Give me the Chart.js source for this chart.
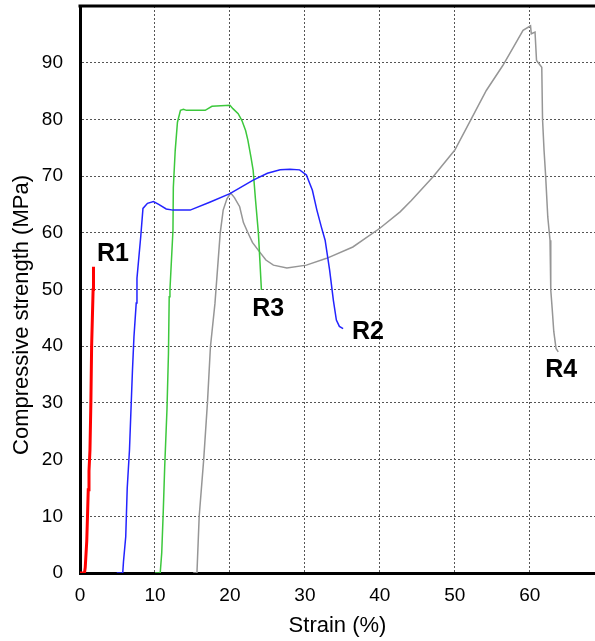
<!DOCTYPE html>
<html>
<head>
<meta charset="utf-8">
<script src="https://cdn.jsdelivr.net/npm/chart.js@4.4.1/dist/chart.umd.min.js"></script>
<style>
  body { margin: 0; background: #fff; }
  #wrap { width: 595px; height: 641px; }
</style>
</head>
<body>
<div id="wrap"><canvas id="stress-chart" width="595" height="641"></canvas></div>
<script>
// Strain (%) and compressive strength (MPa)
const r1Strain = [0, 0.35, 0.6, 0.7, 0.9, 1.0, 1.1, 1.2, 1.33, 1.45, 1.55, 1.65, 1.75, 1.8];
const r1Stress = [0, 0, 0, 1, 5.6, 10, 14.7, 18, 21.7, 30, 40, 45, 50, 54];

const r2Strain = [4.9, 5.7, 5.8, 6.1, 6.3, 6.6, 6.8, 7.0, 7.2, 7.5, 7.6, 8.1, 8.4, 9.0, 9.8, 10.5, 11.5, 12.4, 14.7, 17.3, 20, 23.1, 25, 26.7, 28, 29.3, 30.2, 31, 31.6, 32.2, 32.7, 33.3, 33.8, 34.2, 34.6, 35.1];
const r2Stress = [0, 0, 2, 6.4, 15, 21.7, 28.8, 35.8, 41.7, 47.6, 52, 59.3, 64.3, 65.2, 65.5, 65, 64.2, 64, 64, 65.4, 66.9, 69.3, 70.5, 71.1, 71.2, 71.1, 70.2, 67.5, 64, 61, 58.7, 53.4, 48.1, 44.6, 43.5, 43.1];

const r3Strain = [10, 10.7, 10.9, 11.1, 11.3, 11.6, 11.8, 11.9, 12.0, 12.4, 12.45, 12.7, 13.0, 13.4, 13.8, 14.2, 16.7, 17.6, 20, 20.4, 21.1, 21.6, 22.1, 22.4, 22.8, 23.1, 23.4, 23.8, 24.0, 24.2];
const r3Stress = [0, 0, 3.5, 10.6, 18.8, 28.8, 38.7, 48.7, 50, 60.4, 68, 74.5, 79.5, 81.6, 81.8, 81.6, 81.6, 82.3, 82.5, 81.9, 81, 79.8, 78, 76.3, 73.4, 71, 66, 59.9, 55, 49.9];

const r4Strain = [15.1, 15.6, 15.9, 16.5, 17.0, 17.4, 18.0, 18.7, 19.1, 19.6, 20.1, 20.6, 21.3, 21.8, 22.4, 23.0, 23.8, 24.8, 25.8, 27.6, 30.2, 32.9, 36.4, 40, 42.7, 44.2, 47.1, 50, 52.2, 54.2, 56.4, 57.8, 59.1, 60.1, 60.2, 60.7, 60.9, 61.6, 61.7, 61.9, 62.1, 62.4, 62.7, 62.8, 63.0, 63.2, 63.5, 63.8];
const r4Stress = [0, 0, 10, 20, 30, 39.9, 47.5, 59.9, 64, 66, 67, 66.2, 64.6, 61.8, 60, 58.3, 56.9, 55.2, 54.3, 53.8, 54.3, 55.5, 57.5, 60.8, 63.7, 65.7, 69.9, 74.6, 80.1, 85.1, 89.5, 92.7, 95.7, 96.5, 95.1, 95.4, 90.4, 89.2, 80.1, 74.6, 70.4, 62.8, 58.7, 49.9, 46.4, 42.6, 39.6, 39];

const curveNames = ["R1", "R2", "R3", "R4"];
// where each curve name sits, in data units
const nameStrain = [4.4, 38.4, 25.1, 64.2];
const nameStress = [56.2, 42.4, 46.5, 35.8];

const xTicks = [0, 10, 20, 30, 40, 50, 60];
const yTicks = [0, 10, 20, 30, 40, 50, 60, 70, 80, 90];

const FONT = 'Arial, "Liberation Sans", sans-serif';

function toPoints(xs, ys) {
  return xs.map((x, i) => ({ x: x, y: ys[i] }));
}

// curve names, top frame line and the y title
const extras = {
  id: "extras",
  afterDraw(chart) {
    const ctx = chart.ctx;
    const area = chart.chartArea;
    const xs = chart.scales.x;
    const ys = chart.scales.y;
    ctx.save();
    ctx.strokeStyle = "#000";
    ctx.lineWidth = 3;
    ctx.beginPath();
    ctx.moveTo(area.left - 1.5, area.top);
    ctx.lineTo(area.right, area.top);
    ctx.stroke();

    ctx.fillStyle = "#000";
    ctx.font = "bold 25px " + FONT;
    ctx.textAlign = "center";
    ctx.textBaseline = "middle";
    curveNames.forEach((name, i) => {
      ctx.fillText(name, xs.getPixelForValue(nameStrain[i]), ys.getPixelForValue(nameStress[i]));
    });

    ctx.font = "22px " + FONT;
    ctx.translate(22, 315);
    ctx.rotate(-Math.PI / 2);
    ctx.fillText("Compressive strength (MPa)", 0, 0);
    ctx.restore();
  },
};

const ctx = document.getElementById("stress-chart").getContext("2d");
new Chart(ctx, {
  type: "scatter",
  data: {
    datasets: [
      { label: "R1", data: toPoints(r1Strain, r1Stress), borderColor: "rgb(255,0,0)", borderWidth: 3 },
      { label: "R2", data: toPoints(r2Strain, r2Stress), borderColor: "rgb(35,35,255)", borderWidth: 1.5 },
      { label: "R3", data: toPoints(r3Strain, r3Stress), borderColor: "rgb(60,200,60)", borderWidth: 1.5 },
      { label: "R4", data: toPoints(r4Strain, r4Stress), borderColor: "rgb(150,150,150)", borderWidth: 1.5 },
    ].map((d) => Object.assign(d, { showLine: true, pointRadius: 0, tension: 0, fill: false })),
  },
  options: {
    responsive: false,
    animation: false,
    layout: { padding: { top: 6, right: 0, left: 0, bottom: 0 } },
    plugins: {
      legend: { display: false },
      tooltip: { enabled: false },
    },
    scales: {
      x: {
        type: "linear",
        min: 0,
        max: 68.7,
        afterFit: (scale) => {
          scale.height = 68;
          scale.paddingLeft = 0;
          scale.paddingRight = 0;
        },
        afterBuildTicks: (scale) => { scale.ticks = xTicks.map((v) => ({ value: v })); },
        ticks: { color: "#000", font: { family: FONT, size: 19 }, padding: 11, maxRotation: 0, autoSkip: false },
        grid: { color: "#555", lineWidth: 1, drawTicks: false },
        border: { color: "#000", width: 3, dash: [2, 2] },
        title: { display: true, text: "Strain (%)", color: "#000", font: { family: FONT, size: 22 }, padding: { top: 0, bottom: 2 } },
      },
      y: {
        type: "linear",
        min: 0,
        max: 100,
        afterFit: (scale) => {
          scale.width = 80;
          scale.paddingTop = 0;
          scale.paddingBottom = 0;
        },
        afterBuildTicks: (scale) => { scale.ticks = yTicks.map((v) => ({ value: v })); },
        ticks: { color: "#000", font: { family: FONT, size: 19 }, padding: 17, autoSkip: false },
        grid: { color: "#555", lineWidth: 1, drawTicks: false },
        border: { color: "#000", width: 3, dash: [2, 2] },
      },
    },
  },
  plugins: [extras],
});
</script>
</body>
</html>
